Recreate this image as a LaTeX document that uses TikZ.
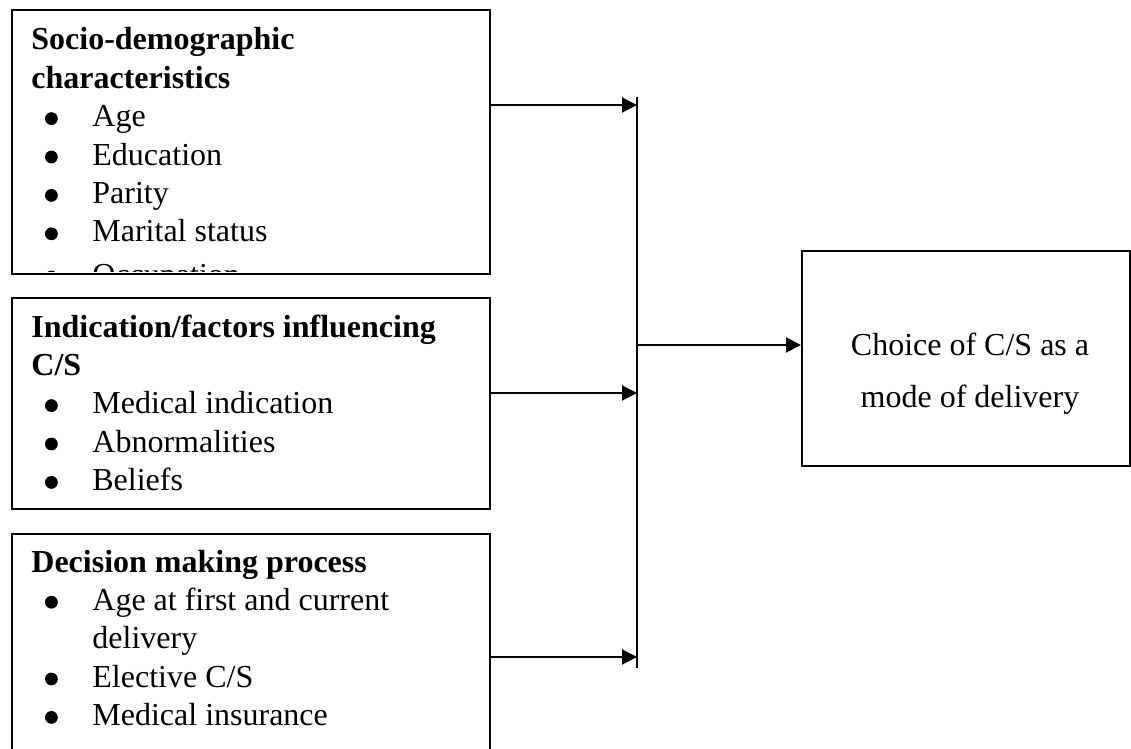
\documentclass[tikz,border=0pt]{standalone}
\usepackage{fontspec}
\setmainfont{Liberation Serif}
\usetikzlibrary{arrows.meta}

\newcommand{\dotmark}{\tikz[baseline=0pt]\fill (3.2pt,4.1pt) circle (3.2pt);}
\newcommand{\itm}[1]{\makebox[30.5pt][l]{\hspace{6.8pt}\dotmark}#1}
\newcommand{\cont}[1]{\hspace*{30.5pt}#1}

\tikzset{
	box/.style={draw, line width=1pt, rectangle, anchor=north west, inner sep=0pt},
	txt/.style={anchor=base west, inner sep=0pt, font=\fontsize{16}{19.2}\selectfont},
	arr/.style={line width=1pt, -{Triangle[length=7.5pt, width=7.5pt]}}
}

\begin{document}
\begin{tikzpicture}[x=0.5pt, y=-0.5pt]
	\useasboundingbox (0,0) rectangle (1131,749);
	
	\node[box, minimum width=239pt, minimum height=132pt] (socio) at (11,9) {};
	\node[box, minimum width=239pt, minimum height=105.5pt] (indic) at (11,297) {};
	\node[box, minimum width=239pt, minimum height=130pt] (decis) at (11,533) {};
	\node[box, minimum width=164pt, minimum height=107.5pt] (choice) at (801,250) {};
	
	\begin{scope}
		\clip (11,9) rectangle (489,271);
		\node[txt] (sociotxt) at (31,50) {\begin{tabular}[t]{@{}l@{}}
			\textbf{Socio-demographic}\\
			\textbf{characteristics}\\
			\itm{Age}\\
			\itm{Education}\\
			\itm{Parity}\\
			\itm{Marital status}\\[2.4pt]
			\itm{Occupation}
		\end{tabular}};
	\end{scope}
	
	\node[txt] (indictxt) at (31,337) {\begin{tabular}[t]{@{}l@{}}
		\textbf{Indication/factors influencing}\\
		\textbf{C/S}\\
		\itm{Medical indication}\\
		\itm{Abnormalities}\\
		\itm{Beliefs}
	\end{tabular}};
	
	\node[txt] (decistxt) at (31,572) {\begin{tabular}[t]{@{}l@{}}
		\textbf{Decision making process}\\
		\itm{Age at first and current}\\
		\cont{delivery}\\
		\itm{Elective C/S}\\
		\itm{Medical insurance}
	\end{tabular}};
	
	\node[txt, anchor=base] (choicetxt) at (970,355) {\renewcommand{\arraystretch}{1.38}\begin{tabular}[t]{@{}c@{}}
		Choice of C/S as a\\
		mode of delivery
	\end{tabular}};
	
	\coordinate (bartop) at (637,97);
	\coordinate (barbot) at (637,668);
	\coordinate (j1) at (637,105);
	\coordinate (j2) at (637,393);
	\coordinate (j3) at (637,657);
	\coordinate (jout) at (637,345);
	
	\draw[line width=1pt] (bartop) -- (barbot);
	\draw[arr] (socio.east |- j1) -- (j1);
	\draw[arr] (indic.east |- j2) -- (j2);
	\draw[arr] (decis.east |- j3) -- (j3);
	\draw[arr] (jout) -- (jout -| choice.west);
\end{tikzpicture}
\end{document}
